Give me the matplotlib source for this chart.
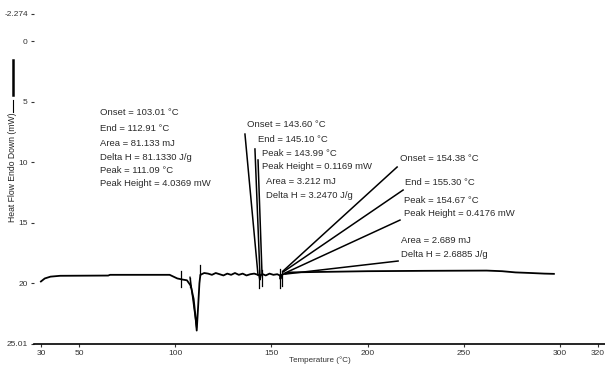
import matplotlib
matplotlib.use("Agg")
import matplotlib.pyplot as plt
from matplotlib.lines import Line2D

plt.rcParams['font.family'] = ['Liberation Sans', 'DejaVu Sans']

# DSC heating scan, temperature (°C) vs heat flow (mW)
temperature = [30, 32, 35, 40, 65, 66, 97, 99, 101, 104, 106, 108, 109.5, 110.5,
               111.09, 111.8, 112.5, 113, 115, 117, 119, 121, 123, 125, 127, 129,
               131, 133, 135, 137, 139, 141, 143, 143.6, 143.99, 144.5, 145.5, 147,
               149, 151, 153, 154.38, 154.67, 155.3, 157, 160, 180, 200, 230, 262,
               270, 277, 285, 292, 297]
heat_flow = [19.85, 19.6, 19.45, 19.38, 19.36, 19.3, 19.3, 19.45, 19.6, 19.7, 19.75,
             20.2, 21.3, 22.8, 23.9, 22.0, 20.0, 19.3, 19.15, 19.2, 19.3, 19.15, 19.25,
             19.35, 19.2, 19.3, 19.15, 19.3, 19.2, 19.35, 19.25, 19.2, 19.3, 19.35,
             19.7, 19.3, 19.25, 19.35, 19.2, 19.3, 19.25, 19.35, 19.65, 19.3, 19.2,
             19.1, 19.05, 19.0, 18.97, 18.95, 19.0, 19.1, 19.15, 19.2, 19.22]

# peak analysis results
peak1_text = ["Onset = 103.01 °C", "End = 112.91 °C", "Area = 81.133 mJ",
              "Delta H = 81.1330 J/g", "Peak = 111.09 °C", "Peak Height = 4.0369 mW"]
peak2_text = ["Onset = 143.60 °C", "End = 145.10 °C", "Peak = 143.99 °C",
              "Peak Height = 0.1169 mW", "Area = 3.212 mJ", "Delta H = 3.2470 J/g"]
peak3_text = ["Onset = 154.38 °C", "End = 155.30 °C", "Peak = 154.67 °C",
              "Peak Height = 0.4176 mW", "Area = 2.689 mJ", "Delta H = 2.6885 J/g"]

# onset / end / limit markers (temperature, from, to)
markers = [(103.01, 19.0, 20.3), (107.6, 19.6, 20.3), (112.91, 18.5, 19.3),
           (143.6, 18.9, 20.4), (145.1, 18.9, 20.2),
           (154.38, 18.8, 20.4), (155.3, 19.0, 20.2)]

# leader lines from result text down to the peaks
leaders2 = [((136.2, 7.68), (143.0, 19.32)), ((141.4, 8.91), (144.0, 19.32)),
            ((143.0, 9.82), (145.1, 19.32))]
leaders3 = [((215.4, 10.40), (156.0, 18.99)), ((218.5, 12.30), (156.0, 19.07)),
            ((216.9, 14.78), (157.1, 19.15)), ((215.9, 18.16), (157.1, 19.24))]

xticks = [30, 50, 100, 150, 200, 250, 300, 320]
yticks = [-2.274, 0, 5, 10, 15, 20, 25.01]
ytick_labels = ["-2.274", "0", "5", "10", "15", "20", "25.01"]

fig = plt.figure(figsize=(6.05, 3.67), dpi=100)
ax = fig.add_axes([0.0562, 0.0627, 0.9438, 0.9005])

ax.plot(temperature, heat_flow, color='black', lw=1.3)

# tangent used for the first onset
ax.plot([107.6, 111.0], [19.5, 23.6], color='black', lw=1.0)

for t, y0, y1 in markers:
    ax.plot([t, t], [y0, y1], color='black', lw=0.9)

for (x0, y0), (x1, y1) in leaders2 + leaders3:
    ax.plot([x0, x1], [y0, y1], color='black', lw=1.1)

txt = dict(fontsize=6.8, color='#2a2a2a', va='center', ha='left')
for s, y in zip(peak1_text, [5.94, 7.18, 8.42, 9.58, 10.65, 11.72]):
    ax.text(60.8, y, s, **txt)
pos2 = [(137.3, 6.93), (143.0, 8.09), (145.1, 9.25), (145.1, 10.32),
        (147.2, 11.56), (147.2, 12.71)]
for s, (x, y) in zip(peak2_text, pos2):
    ax.text(x, y, s, **txt)
pos3 = [(216.9, 9.66), (219.5, 11.64), (219.0, 13.13), (219.0, 14.20),
        (217.4, 16.43), (217.4, 17.59)]
for s, (x, y) in zip(peak3_text, pos3):
    ax.text(x, y, s, **txt)

ax.set_xlim(26.4, 323.6)
ax.set_ylim(25.01, -2.274)
ax.set_xticks(xticks)
ax.set_yticks(yticks)
ax.set_yticklabels(ytick_labels)
ax.tick_params(axis='both', labelsize=6, colors='#333333', length=2.5, width=0.8, pad=2)
ax.tick_params(axis='x', pad=1.5)

for side in ['top', 'right', 'left']:
    ax.spines[side].set_visible(False)
ax.spines['bottom'].set_linewidth(1.2)

ax.set_xlabel("Temperature (°C)", fontsize=5.8, color='#333333', labelpad=0)
fig.text(0.021, 0.545, "Heat Flow Endo Down (mW)", rotation=90, fontsize=6.2,
         color='#222222', ha='center', va='center')
fig.add_artist(Line2D([0.021, 0.021], [1 - 60 / 367, 1 - 95 / 367], color='black', lw=1.8))
fig.add_artist(Line2D([0.021, 0.021], [1 - 100 / 367, 1 - 112 / 367], color='black', lw=0.8))

fig.savefig("out.png", dpi=100)
